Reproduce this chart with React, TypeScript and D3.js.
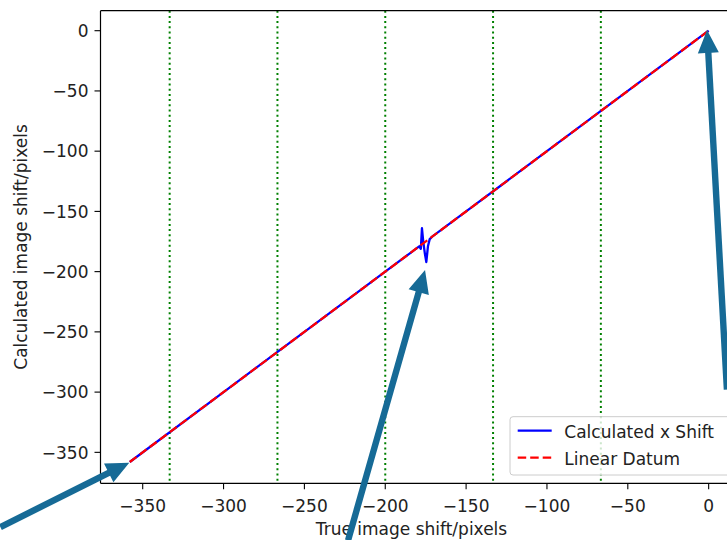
import React from "react";
import * as d3 from "d3";

// ---- data ----
const calcX = [-358, -300, -250, -200, -185, -179, -178, -177.3, -176.5, -175.5, -174.6, -173.6, -172.5, -171, -150, -100, -50, 0];
const calcY = [-358, -300, -250, -200, -185, -179, -181, -164, -175, -185, -192, -179, -173, -171, -150, -100, -50, 0];
const datumX = [-358, 0];
const datumY = [-358, 0];
const markerX = [-333.33, -266.67, -200, -133.33, -66.67];
const xTicks = [-350, -300, -250, -200, -150, -100, -50, 0];
const yTicks = [0, -50, -100, -150, -200, -250, -300, -350];
const legendLabels = ["Calculated x Shift", "Linear Datum"];
// annotation arrows (data coords): tail -> tip
const arrowTail = [[-438, -412], [-223, -423], [11.3, -298]];
const arrowTip = [[-358.3, -358.6], [-175.4, -198.7], [-1.0, 0.6]];

const W = 727, H = 540;
const L = 100.5, T = 10.7, B = 483.3, R = 737.6;
const FONT = "DejaVu Sans, sans-serif";
const TXT = "#222";
const FS = 17;

function fmt(v: number) {
  return v < 0 ? "\u2212" + Math.abs(v) : String(v);
}

function arrowPoly(x0: number, y0: number, x1: number, y1: number) {
  const dx = x1 - x0, dy = y1 - y0;
  const len = Math.hypot(dx, dy);
  const ux = dx / len, uy = dy / len;
  const px = -uy, py = ux;
  const sw = 3.2, hw = 10.5, hl = 23;
  const nx = x1 - ux * hl, ny = y1 - uy * hl;
  const pts = [
    [x0 + px * sw, y0 + py * sw],
    [nx + px * sw, ny + py * sw],
    [nx + px * hw, ny + py * hw],
    [x1, y1],
    [nx - px * hw, ny - py * hw],
    [nx - px * sw, ny - py * sw],
    [x0 - px * sw, y0 - py * sw],
  ];
  return pts.map((p) => p.join(",")).join(" ");
}

export default function App() {
  const x = d3.scaleLinear().domain([-376.1, 17.9]).range([L, R]);
  const y = d3.scaleLinear().domain([-375.7, 16.6]).range([B, T]);
  const line = d3.line<[number, number]>().x((d) => x(d[0])).y((d) => y(d[1]));
  const calcData = calcX.map((v, i) => [v, calcY[i]] as [number, number]);
  const datumData = datumX.map((v, i) => [v, datumY[i]] as [number, number]);

  const legX = 510, legY = 416.7, legH = 58.3;
  return (
    <svg width={W} height={H} style={{ position: "fixed", left: 0, top: 0, background: "#fff" }} fontFamily={FONT}>
      <defs>
        <clipPath id="plot">
          <rect x={L} y={T} width={R - L} height={B - T} />
        </clipPath>
        <filter id="soft" x="-20%" y="-20%" width="140%" height="140%">
          <feGaussianBlur stdDeviation="0.6" />
        </filter>
      </defs>
      <rect x={0} y={0} width={W} height={H} fill="#fff" />
      <g clipPath="url(#plot)">
        {markerX.map((v, i) => (
          <line key={i} x1={x(v)} x2={x(v)} y1={T} y2={B} stroke="#008000" strokeWidth={2} strokeDasharray="2,3.2" />
        ))}
        <path d={line(calcData) || ""} fill="none" stroke="#0000ff" strokeWidth={2.3} strokeLinejoin="round" />
        <path d={line(datumData) || ""} fill="none" stroke="#ff0000" strokeWidth={2.3} strokeDasharray="8.5,4" />
      </g>
      {/* spines */}
      <line x1={L} x2={L} y1={T} y2={B} stroke="#000" strokeWidth={1.2} />
      <line x1={L} x2={W} y1={B} y2={B} stroke="#000" strokeWidth={1.2} />
      <line x1={L} x2={W} y1={T} y2={T} stroke="#000" strokeWidth={1.2} />
      {/* x ticks */}
      {xTicks.map((t) => (
        <g key={t}>
          <line x1={x(t)} x2={x(t)} y1={B} y2={B + 6} stroke="#000" strokeWidth={1.1} />
          <text x={x(t)} y={B + 28.2} fontSize={FS} textAnchor="middle" fill={TXT}>{fmt(t)}</text>
        </g>
      ))}
      {yTicks.map((t) => (
        <g key={t}>
          <line x1={L - 6} x2={L} y1={y(t)} y2={y(t)} stroke="#000" strokeWidth={1.1} />
          <text x={L - 12} y={y(t) + 6.2} fontSize={FS} textAnchor="end" fill={TXT}>{fmt(t)}</text>
        </g>
      ))}
      <text x={411.5} y={535} fontSize={FS} textAnchor="middle" fill={TXT}>True image shift/pixels</text>
      <text transform={`translate(27,${(T + B) / 2}) rotate(-90)`} fontSize={FS} textAnchor="middle" fill={TXT}>
        Calculated image shift/pixels
      </text>
      {/* legend */}
      <rect x={legX} y={legY} width={240} height={legH} rx={3} fill="#fff" fillOpacity={0.8} stroke="#cccccc" strokeWidth={1} />
      <line x1={517.7} x2={551.7} y1={430.7} y2={430.7} stroke="#0000ff" strokeWidth={2.3} />
      <line x1={517.7} x2={551.7} y1={457.7} y2={457.7} stroke="#ff0000" strokeWidth={2.3} strokeDasharray="8.5,4" />
      <text x={564.3} y={438} fontSize={FS} fill={TXT}>{legendLabels[0]}</text>
      <text x={564.3} y={465} fontSize={FS} fill={TXT}>{legendLabels[1]}</text>
      {/* annotation arrows */}
      {arrowTail.map((tl, i) => (
        <polygon
          key={i}
          points={arrowPoly(x(tl[0]), y(tl[1]), x(arrowTip[i][0]), y(arrowTip[i][1]))}
          fill="#176b96"
          filter="url(#soft)"
        />
      ))}
    </svg>
  );
}
